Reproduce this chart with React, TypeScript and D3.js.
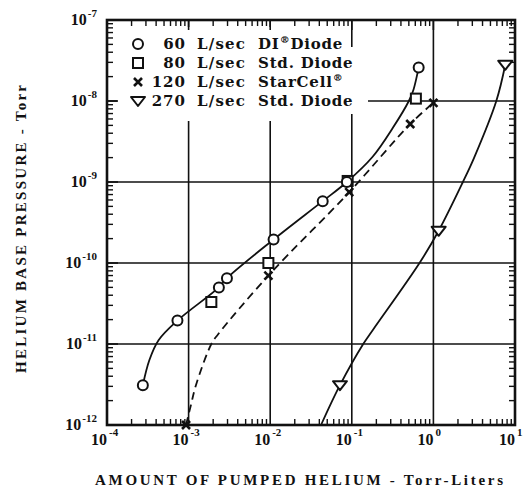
import React from 'react';
import * as d3 from 'd3';

// axis decades (log10)
const xDecades = [-4, -3, -2, -1, 0, 1];
const yDecades = [-12, -11, -10, -9, -8, -7];
const xGrid = [1e-3, 1e-2, 1e-1, 1];
const yGrid = [1e-11, 1e-10, 1e-9, 1e-8];

// plotted symbols  [torr-liters, torr]
const diCircles: [number, number][] = [
  [2.75e-4, 3.1e-12], [7.3e-4, 1.95e-11], [2.35e-3, 5.0e-11], [2.95e-3, 6.5e-11],
  [1.1e-2, 1.95e-10], [4.4e-2, 5.8e-10], [8.7e-2, 1.0e-9], [0.66, 2.6e-8],
];
const stdSquares: [number, number][] = [
  [1.9e-3, 3.3e-11], [9.5e-3, 1.0e-10], [8.9e-2, 1.03e-9], [0.61, 1.07e-8],
];
const starCellX: [number, number][] = [
  [9.3e-4, 1e-12], [9.5e-3, 7e-11], [9.3e-2, 7.5e-10], [0.52, 5.2e-9], [1.0, 9.5e-9],
];
const std270Tri: [number, number][] = [
  [0.0716, 3.1e-12], [1.16, 2.5e-10], [7.6, 2.8e-8],
];

// hand drawn curves
const curveDI: [number, number][] = [
  [2.75e-4, 3.1e-12], [3.3e-4, 6.3e-12], [4.3e-4, 1.12e-11],
  [7.3e-4, 1.95e-11], [2.35e-3, 5.0e-11], [2.95e-3, 6.5e-11], [1.1e-2, 1.95e-10],
  [4.4e-2, 5.8e-10], [8.7e-2, 1.0e-9], [0.18, 2.05e-9], [0.32, 4.7e-9],
  [0.5, 1.0e-8], [0.57, 1.38e-8], [0.66, 2.6e-8],
];
const curveStarCell: [number, number][] = [
  [9.3e-4, 1e-12], [1.07e-3, 1.78e-12], [1.23e-3, 3.1e-12], [1.9e-3, 1.0e-11],
  [2.3e-3, 1.32e-11], [9.5e-3, 7e-11], [9.3e-2, 7.5e-10], [0.52, 5.2e-9], [1.0, 9.5e-9],
];
const curve270: [number, number][] = [
  [0.042, 1e-12], [0.0716, 3.1e-12], [0.138, 1e-11], [0.182, 1.5e-11],
  [0.676, 1e-10], [1.16, 2.5e-10], [2.3, 1e-9], [3.16, 2e-9], [5.9, 1e-8], [7.6, 2.8e-8],
];

const legendRows = [
  { marker: 'circle', num: '60', name: 'DI', sup: '®', tail: 'Diode' },
  { marker: 'square', num: '80', name: 'Std. Diode', sup: '', tail: '' },
  { marker: 'cross', num: '120', name: 'StarCell', sup: '®', tail: '' },
  { marker: 'tri', num: '270', name: 'Std. Diode', sup: '', tail: '' },
];

const INK = '#111';
const SERIF = '"DejaVu Serif", "Liberation Serif", serif';
const TIMES = '"Liberation Serif", "DejaVu Serif", serif';

function Marker({ kind, cx, cy }: { kind: string; cx: number; cy: number }) {
  if (kind === 'circle')
    return <circle cx={cx} cy={cy} r={5} fill="white" stroke={INK} strokeWidth={2} />;
  if (kind === 'square')
    return <rect x={cx - 5} y={cy - 5} width={10} height={10} fill="white" stroke={INK} strokeWidth={2} />;
  if (kind === 'cross')
    return (
      <path d={`M${cx - 4},${cy - 4}L${cx + 4},${cy + 4}M${cx + 4},${cy - 4}L${cx - 4},${cy + 4}`}
        stroke={INK} strokeWidth={2.6} />
    );
  return (
    <path d={`M${cx - 7},${cy - 4}L${cx + 7},${cy - 4}L${cx},${cy + 5}Z`}
      fill="white" stroke={INK} strokeWidth={2} strokeLinejoin="round" />
  );
}

export default function App() {
  const left = 107, right = 515, top = 20, bottom = 425;
  const x = d3.scaleLog().domain([1e-4, 10]).range([left, right]);
  const y = d3.scaleLog().domain([1e-12, 1e-7]).range([bottom, top]);
  const line = d3.line<[number, number]>()
    .x(d => x(d[0]))
    .y(d => y(d[1]))
    .curve(d3.curveCatmullRom.alpha(0.5));

  // minor ticks 2..9 in each decade
  const xMinor: number[] = [];
  xDecades.slice(0, -1).forEach(d => d3.range(2, 10).forEach(k => xMinor.push(k * Math.pow(10, d))));
  const yMinor: number[] = [];
  yDecades.slice(0, -1).forEach(d => d3.range(2, 10).forEach(k => yMinor.push(k * Math.pow(10, d))));

  const legendY = [44, 63, 82, 101];

  return (
    <svg width={531} height={490} style={{ position: 'absolute', left: 0, top: 0, background: 'white' }}>
      <rect width={531} height={490} fill="white" />

      {/* grid */}
      {xGrid.map(v => (
        <line key={'gx' + v} x1={x(v)} x2={x(v)} y1={top} y2={bottom} stroke={INK} strokeWidth={1.6} />
      ))}
      {yGrid.map(v => (
        <line key={'gy' + v} x1={left} x2={right} y1={y(v)} y2={y(v)} stroke={INK} strokeWidth={1.6} />
      ))}

      {/* legend background hides grid */}
      <path d={`M117,27H345V47H368V114H${x(0.1) - 2}V121H117Z`} fill="white" />

      {/* ticks */}
      {xMinor.map(v => (
        <g key={'tx' + v}>
          <line x1={x(v)} x2={x(v)} y1={bottom} y2={bottom - 6} stroke={INK} strokeWidth={1.4} />
          <line x1={x(v)} x2={x(v)} y1={top} y2={top + 6} stroke={INK} strokeWidth={1.4} />
        </g>
      ))}
      {yMinor.map(v => (
        <g key={'ty' + v}>
          <line x1={left} x2={left + 6} y1={y(v)} y2={y(v)} stroke={INK} strokeWidth={1.4} />
          <line x1={right} x2={right - 6} y1={y(v)} y2={y(v)} stroke={INK} strokeWidth={1.4} />
        </g>
      ))}
      {xGrid.map(v => (
        <line key={'mx' + v} x1={x(v)} x2={x(v)} y1={top} y2={top + 10} stroke={INK} strokeWidth={1.6} />
      ))}
      {yGrid.map(v => (
        <line key={'my' + v} x1={left} x2={left + 11} y1={y(v)} y2={y(v)} stroke={INK} strokeWidth={1.6} />
      ))}

      {/* frame */}
      <rect x={left} y={top} width={right - left} height={bottom - top} fill="none" stroke={INK} strokeWidth={2.6} />

      {/* curves */}
      <path d={line(curveDI) || ''} fill="none" stroke={INK} strokeWidth={1.8} />
      <path d={line(curveStarCell) || ''} fill="none" stroke={INK} strokeWidth={1.8} strokeDasharray="8,5" />
      <path d={line(curve270) || ''} fill="none" stroke={INK} strokeWidth={1.8} />

      {/* symbols */}
      {stdSquares.map((d, i) => <Marker key={'s' + i} kind="square" cx={x(d[0])} cy={y(d[1])} />)}
      {diCircles.map((d, i) => <Marker key={'c' + i} kind="circle" cx={x(d[0])} cy={y(d[1])} />)}
      {starCellX.map((d, i) => <Marker key={'x' + i} kind="cross" cx={x(d[0])} cy={y(d[1])} />)}
      {std270Tri.map((d, i) => <Marker key={'t' + i} kind="tri" cx={x(d[0])} cy={y(d[1])} />)}

      {/* legend */}
      {legendRows.map((r, i) => (
        <g key={'lg' + i} fontFamily={SERIF} fontWeight="bold" fontSize={15} fill={INK}>
          <Marker kind={r.marker} cx={138} cy={legendY[i]} />
          <text x={186} y={legendY[i] + 5} textAnchor="end" letterSpacing={1}>{r.num}</text>
          <text x={197} y={legendY[i] + 5} letterSpacing={1.2}>L/sec</text>
          <text x={258} y={legendY[i] + 5} letterSpacing={0.8}>
            {r.name}
            {r.sup && <tspan dy={-6} fontSize={10}>{r.sup}</tspan>}
            {r.tail && <tspan dy={6}>{r.tail}</tspan>}
          </text>
        </g>
      ))}

      {/* y tick labels */}
      {yDecades.map(d => (
        <text key={'yl' + d} x={97} y={y(Math.pow(10, d)) + 5} textAnchor="end"
          fontFamily={TIMES} fontWeight="bold" fontSize={16} fill={INK}>
          10<tspan dy={-8} dx={1} fontSize={11}>{'-' + Math.abs(d)}</tspan>
        </text>
      ))}

      {/* x tick labels */}
      {xDecades.map(d => (
        <text key={'xl' + d} x={x(Math.pow(10, d)) - 16} y={445}
          fontFamily={TIMES} fontWeight="bold" fontSize={16} fill={INK}>
          10<tspan dy={-9} dx={2} fontSize={11}>{d < 0 ? '-' + Math.abs(d) : String(d)}</tspan>
        </text>
      ))}

      {/* axis titles */}
      <text x={299} y={485} textAnchor="middle" fontFamily={TIMES} fontWeight="bold" fontSize={15}
        fill={INK} textLength={408} lengthAdjust="spacing">
        AMOUNT OF PUMPED HELIUM - Torr-Liters
      </text>
      <text transform="translate(26,229) rotate(-90)" textAnchor="middle" fontFamily={TIMES}
        fontWeight="bold" fontSize={15} fill={INK} textLength={288} lengthAdjust="spacing">
        HELIUM BASE PRESSURE - Torr
      </text>
    </svg>
  );
}
